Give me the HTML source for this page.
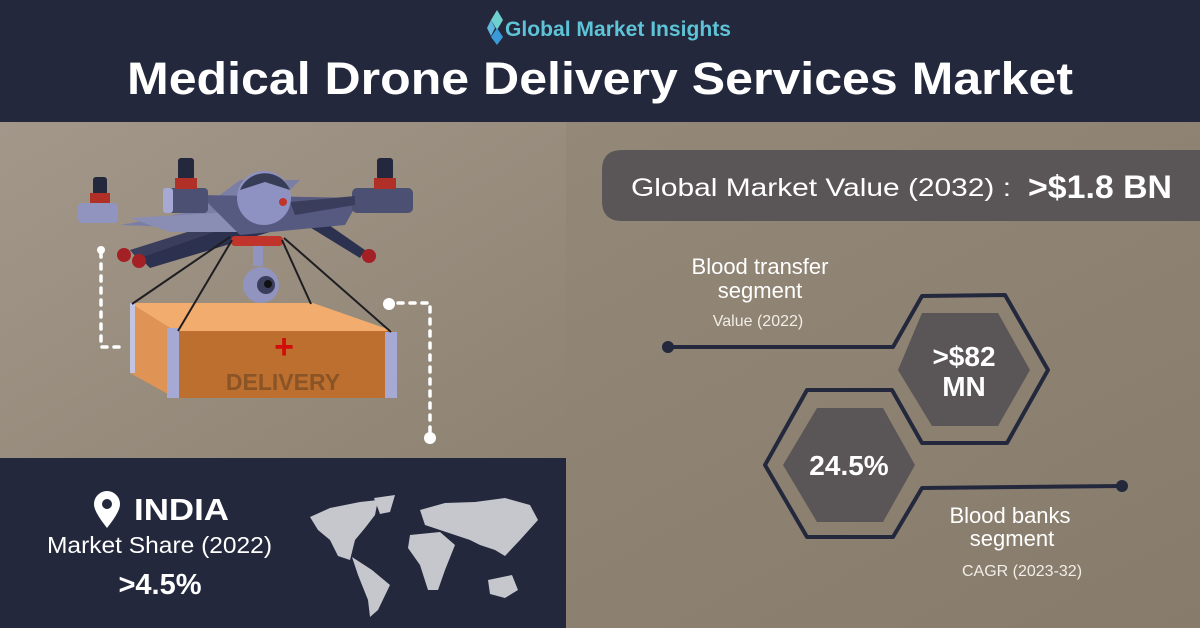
<!DOCTYPE html>
<html><head><meta charset="utf-8"><style>
html,body{margin:0;padding:0;width:1200px;height:628px;overflow:hidden;font-family:"Liberation Sans",sans-serif}
svg{display:block}
</style></head><body>
<svg width="1200" height="628" viewBox="0 0 1200 628" xmlns="http://www.w3.org/2000/svg">
<defs>
<linearGradient id="lg" x1="0" y1="0" x2="1" y2="1"><stop offset="0" stop-color="#a3978a"/><stop offset="1" stop-color="#8e8372"/></linearGradient>
<linearGradient id="rg" x1="0" y1="0" x2="1" y2="1"><stop offset="0" stop-color="#9a8e7e"/><stop offset="1" stop-color="#877b6b"/></linearGradient>
</defs>
<rect x="0" y="0" width="1200" height="628" fill="url(#rg)"/>
<rect x="0" y="122" width="566" height="336" fill="url(#lg)"/>
<rect x="0" y="0" width="1200" height="122" fill="#23283c"/>
<!-- logo -->
<polygon points="497,10 503,20 497,30 491,20" fill="#6fd0d0"/>
<polygon points="497,28 503,37 497,45 491,37" fill="#3a9ad8"/>
<polygon points="491,20 495,28 491,36 487,28" fill="#5fb8e0"/>
<text x="505" y="36" font-size="21" font-weight="bold" fill="#5ec3d6" textLength="226" lengthAdjust="spacingAndGlyphs">Global Market Insights</text>
<text x="600" y="94" text-anchor="middle" font-size="45" font-weight="bold" fill="#fff" textLength="946" lengthAdjust="spacingAndGlyphs">Medical Drone Delivery Services Market</text>

<!-- right side -->
<path d="M622,150 H1200 V221 H622 Q602,221 602,201 V170 Q602,150 622,150 Z" fill="#5a5556"/>
<text x="631" y="196" font-size="25" fill="#fff" textLength="380" lengthAdjust="spacingAndGlyphs">Global Market Value (2032) :</text>
<text x="1028" y="198" font-size="32" font-weight="bold" fill="#fff" textLength="144" lengthAdjust="spacingAndGlyphs">&gt;$1.8 BN</text>

<text x="760" y="274" text-anchor="middle" font-size="22" fill="#fff">Blood transfer</text>
<text x="760" y="298" text-anchor="middle" font-size="22" fill="#fff">segment</text>
<text x="758" y="326" text-anchor="middle" font-size="16" fill="#f2ede6">Value (2022)</text>

<g fill="none" stroke="#23283c" stroke-width="4" stroke-linejoin="round">
<polyline points="668,347 893,347 922,296 1005,295 1048,370 1007,443 922,443 892,390 807,390 765,465 807,537 893,537 922,488 1122,486"/>
</g>
<circle cx="668" cy="347" r="6" fill="#23283c"/>
<circle cx="1122" cy="486" r="6" fill="#23283c"/>
<polygon points="922,313 998,313 1030,370 998,426 932,426 898,370" fill="#5a5556"/>
<polygon points="817,408 883,408 915,465 883,522 817,522 783,465" fill="#5a5556"/>
<text x="964" y="366" text-anchor="middle" font-size="28" font-weight="bold" fill="#fff">&gt;$82</text>
<text x="964" y="396" text-anchor="middle" font-size="28" font-weight="bold" fill="#fff">MN</text>
<text x="849" y="475" text-anchor="middle" font-size="28" font-weight="bold" fill="#fff">24.5%</text>

<text x="1010" y="523" text-anchor="middle" font-size="22" fill="#fff">Blood banks</text>
<text x="1012" y="546" text-anchor="middle" font-size="22" fill="#fff">segment</text>
<text x="1022" y="576" text-anchor="middle" font-size="16" fill="#f2ede6">CAGR (2023-32)</text>

<!-- dotted connectors -->
<g stroke="#fff" stroke-width="3.5" stroke-dasharray="5,7" fill="none" stroke-linecap="round">
<polyline points="101,252 101,347 120,347"/>
<polyline points="398,303 430,303 430,436"/>
</g>
<circle cx="101" cy="250" r="4" fill="#fff"/>
<circle cx="389" cy="304" r="6" fill="#fff"/>
<circle cx="430" cy="438" r="6" fill="#fff"/>

<!-- drone -->
<g>
<path d="M120,225 L200,210 L240,180 L300,180 L250,230 Z" fill="#7b7fa6"/>
<path d="M130,250 L200,228 L260,225 L140,262 Z" fill="#3a3e5c"/>
<path d="M140,258 L220,230 L270,232 L150,268 Z" fill="#2d3150"/>
<path d="M300,205 L365,250 L360,258 L290,215 Z" fill="#2d3150"/>
<path d="M130,218 L230,212 L240,232 L170,232 Z" fill="#8a8eb5"/>
<path d="M200,195 L360,198 L345,225 L240,235 Z" fill="#565a80"/>
<rect x="78" y="203" width="40" height="20" rx="4" fill="#9094bf"/>
<rect x="93" y="177" width="14" height="18" rx="3" fill="#23283c"/>
<rect x="90" y="193" width="20" height="10" fill="#b03028"/>
<rect x="163" y="188" width="45" height="25" rx="4" fill="#4c5073"/>
<rect x="163" y="188" width="10" height="25" rx="3" fill="#a5a9d4"/>
<rect x="178" y="158" width="16" height="22" rx="3" fill="#23283c"/>
<rect x="175" y="178" width="22" height="11" fill="#b03028"/>
<rect x="352" y="188" width="61" height="25" rx="5" fill="#4c5073"/>
<rect x="377" y="158" width="16" height="22" rx="3" fill="#23283c"/>
<rect x="374" y="178" width="22" height="11" fill="#b03028"/>
<path d="M290,202 L355,196 L355,205 L295,215 Z" fill="#3a3e5c"/>
<circle cx="264" cy="198" r="27" fill="#8e92c2"/>
<path d="M240,190 A27,27 0 0 1 290,190 L265,182 Z" fill="#23283c" opacity=".8"/>
<circle cx="283" cy="202" r="4" fill="#c0342b"/>
<rect x="231" y="236" width="52" height="10" rx="4" fill="#c0342b"/>
<rect x="253" y="246" width="10" height="20" fill="#9094bf"/>
<circle cx="261" cy="285" r="18" fill="#9094bf"/>
<circle cx="266" cy="285" r="9" fill="#3a3e5c"/>
<circle cx="268" cy="284" r="4" fill="#111"/>
<circle cx="124" cy="255" r="7" fill="#a32025"/>
<circle cx="139" cy="261" r="7" fill="#a32025"/>
<circle cx="369" cy="256" r="7" fill="#a32025"/>
</g>
<!-- box -->
<polygon points="130,303 313,303 393,331 175,331" fill="#f2ac6e"/>
<polygon points="130,303 175,331 175,398 130,373" fill="#df9354"/>
<rect x="175" y="331" width="218" height="67" fill="#bc6f2e"/>
<rect x="130" y="303" width="5" height="70" fill="#c2c4e0"/>
<rect x="167" y="328" width="12" height="70" fill="#a5a9d4"/>
<rect x="385" y="332" width="12" height="66" fill="#a5a9d4"/>
<g stroke="#1e1e22" stroke-width="2">
<line x1="132" y1="304" x2="230" y2="237"/>
<line x1="178" y1="331" x2="232" y2="240"/>
<line x1="311" y1="304" x2="282" y2="240"/>
<line x1="391" y1="332" x2="284" y2="238"/>
</g>
<text x="284" y="358" text-anchor="middle" font-size="34" font-weight="bold" fill="#d40c0c">+</text>
<text x="283" y="390" text-anchor="middle" font-size="23" font-weight="bold" fill="#8a5426">DELIVERY</text>

<!-- bottom left panel -->
<rect x="0" y="458" width="566" height="170" fill="#23283c"/>
<path d="M107,528 C96,514 94,508 94,504 A13,13 0 0 1 120,504 C120,508 118,514 107,528 Z" fill="#fff"/>
<circle cx="107" cy="504" r="5" fill="#23283c"/>
<text x="134" y="520" font-size="31" font-weight="bold" fill="#fff" textLength="95" lengthAdjust="spacingAndGlyphs">INDIA</text>
<text x="47" y="553" font-size="23" fill="#fff" textLength="225" lengthAdjust="spacingAndGlyphs">Market Share (2022)</text>
<text x="160" y="594" text-anchor="middle" font-size="29" font-weight="bold" fill="#fff">&gt;4.5%</text>
<!-- map -->
<g fill="#c6c7cc">
<path d="M310,517 L330,508 L360,502 L378,500 L375,515 L365,528 L355,540 L350,560 L338,556 L330,540 L318,530 Z"/>
<path d="M374,498 L395,495 L390,512 L380,514 Z"/>
<path d="M352,557 L372,570 L390,585 L378,610 L370,617 L368,600 L358,575 Z"/>
<path d="M420,510 L445,503 L475,502 L505,498 L530,505 L538,520 L520,540 L505,556 L495,550 L480,545 L470,540 L455,535 L440,530 L425,525 Z"/>
<path d="M410,535 L440,532 L455,545 L445,570 L438,590 L428,590 L420,565 L408,548 Z"/>
<path d="M488,580 L512,575 L518,590 L505,598 L490,594 Z"/>
</g>
<path d="M467,558 C464,554 463,552 463,551 A4,4 0 0 1 471,551 C471,552 470,554 467,558 Z" fill="#23283c"/>
</svg>
</body></html>
